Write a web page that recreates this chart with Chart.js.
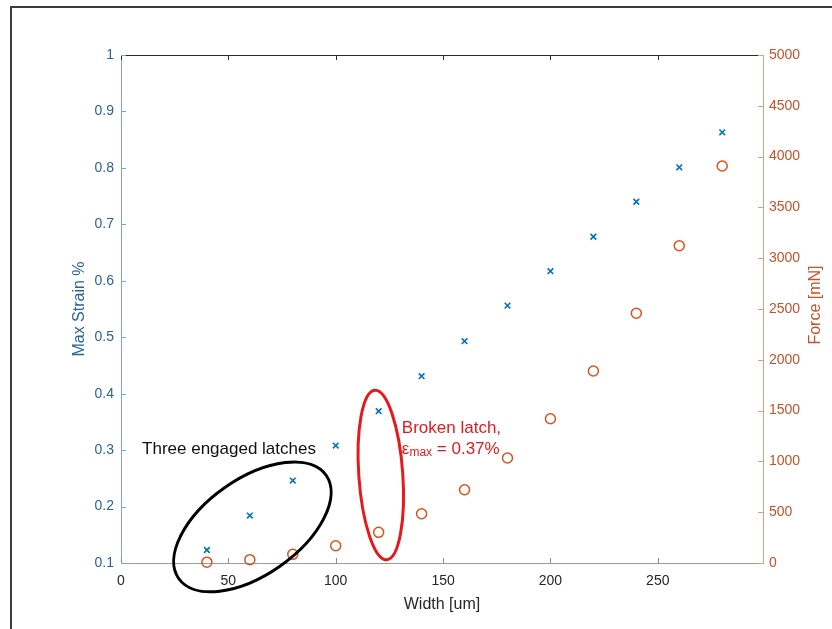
<!DOCTYPE html>
<html>
<head>
<meta charset="utf-8">
<script src="https://cdn.jsdelivr.net/npm/chart.js@4"></script>
<style>
  html, body { margin: 0; padding: 0; background: #fff; overflow: hidden; width: 832px; height: 629px; }
  #wrap { position: absolute; left: 0; top: 0; width: 832px; height: 629px; }
  #strainChart { display: block; }
</style>
</head>
<body>
<div id="wrap"><canvas id="strainChart" width="832" height="629"></canvas></div>
<script>
// latch width vs. peak strain and force
const widths = [40, 60, 80, 100, 120, 140, 160, 180, 200, 220, 240, 260, 280];
const maxStrain = [0.123, 0.184, 0.246, 0.308, 0.369, 0.431, 0.493, 0.556, 0.617, 0.678, 0.740, 0.801, 0.863];
const force = [8, 33, 85, 170, 302, 485, 721, 1033, 1420, 1890, 2458, 3123, 3908];

const widthTicks = [0, 50, 100, 150, 200, 250];
const strainTicks = [0.1, 0.2, 0.3, 0.4, 0.5, 0.6, 0.7, 0.8, 0.9, 1];
const forceTicks = [0, 500, 1000, 1500, 2000, 2500, 3000, 3500, 4000, 4500, 5000];

const BLUE = "#0072BD";
const ORANGE = "#D95319";
const BLUE_TXT = "#2a6496";
const ORANGE_TXT = "#c2532a";
const FONT = "'Liberation Sans', Arial, Helvetica, sans-serif";

Chart.defaults.font.family = FONT;

const toPoints = (ys) => widths.map((w, i) => ({ x: w, y: ys[i] }));

// white page with the figure frame (left and top edges only)
const frame = {
  id: "frame",
  beforeDraw(chart) {
    const { ctx, width, height } = chart;
    ctx.save();
    ctx.fillStyle = "#fff";
    ctx.fillRect(0, 0, width, height);
    ctx.strokeStyle = "#3c3c3c";
    ctx.lineWidth = 2;
    ctx.beginPath();
    ctx.moveTo(11, height);
    ctx.lineTo(11, 7);
    ctx.lineTo(width + 2, 7);
    ctx.stroke();
    ctx.restore();
  }
};

// matlab-style ticks pointing into the plot box, plus the top edge
const innerTicks = {
  id: "innerTicks",
  afterDraw(chart) {
    const { ctx, chartArea: a, scales } = chart;
    const len = 5;
    ctx.save();
    ctx.lineWidth = 1;
    ctx.strokeStyle = "#2b2b2b";
    ctx.beginPath();
    ctx.moveTo(a.left, a.top + 0.5);
    ctx.lineTo(a.right, a.top + 0.5);
    ctx.stroke();

    widthTicks.forEach((v) => {
      const x = Math.round(scales.x.getPixelForValue(v)) + 0.5;
      ctx.strokeStyle = "#8a8a8a";
      ctx.beginPath(); ctx.moveTo(x, a.bottom); ctx.lineTo(x, a.bottom - len); ctx.stroke();
      ctx.strokeStyle = "#2b2b2b";
      ctx.beginPath(); ctx.moveTo(x, a.top); ctx.lineTo(x, a.top + len); ctx.stroke();
    });
    ctx.strokeStyle = "#7fa6c7";
    strainTicks.forEach((v) => {
      const y = Math.round(scales.y.getPixelForValue(v)) + 0.5;
      ctx.beginPath(); ctx.moveTo(a.left, y); ctx.lineTo(a.left + len, y); ctx.stroke();
    });
    ctx.strokeStyle = "#e0a07e";
    forceTicks.forEach((v) => {
      const y = Math.round(scales.y2.getPixelForValue(v)) + 0.5;
      ctx.beginPath(); ctx.moveTo(a.right, y); ctx.lineTo(a.right - len, y); ctx.stroke();
    });

    // right axis title reads bottom-to-top like the left one
    ctx.fillStyle = ORANGE_TXT;
    ctx.font = "16px " + FONT;
    ctx.textAlign = "center";
    ctx.textBaseline = "middle";
    ctx.translate(816, (a.top + a.bottom) / 2 - 4);
    ctx.rotate(-Math.PI / 2);
    ctx.fillText("Force [mN]", 0, 0);
    ctx.restore();
  }
};

// circled groups and their notes
const notes = {
  id: "notes",
  afterDatasetsDraw(chart) {
    const { ctx, scales } = chart;
    const px = (v) => scales.x.getPixelForValue(v);
    const py = (v) => scales.y.getPixelForValue(v);
    ctx.save();
    ctx.lineWidth = 3;

    ctx.strokeStyle = "#000";
    ctx.beginPath();
    ctx.ellipse(px(61.2), py(0.164), 90, 48, -35 * Math.PI / 180, 0, Math.PI * 2);
    ctx.stroke();

    ctx.strokeStyle = "#e41a1c";
    ctx.beginPath();
    ctx.ellipse(px(121), py(0.256), 22, 85, -4 * Math.PI / 180, 0, Math.PI * 2);
    ctx.stroke();

    ctx.textBaseline = "middle";
    ctx.textAlign = "left";
    ctx.font = "17px " + FONT;
    ctx.fillStyle = "#111";
    ctx.fillText("Three engaged latches", px(9.8), py(0.302));

    ctx.fillStyle = "#e41a1c";
    const tx = px(130.8);
    ctx.fillText("Broken latch,", tx, py(0.339));
    const y2 = py(0.302);
    ctx.fillText("\u03b5", tx, y2);
    let x = tx + ctx.measureText("\u03b5").width;
    ctx.font = "12px " + FONT;
    ctx.fillText("max", x, y2 + 4);
    x += ctx.measureText("max").width;
    ctx.font = "17px " + FONT;
    ctx.fillText(" = 0.37%", x, y2);
    ctx.restore();
  }
};

new Chart(document.getElementById("strainChart"), {
  type: "scatter",
  data: {
    datasets: [
      {
        label: "Max Strain %",
        data: toPoints(maxStrain),
        yAxisID: "y",
        pointStyle: "crossRot",
        pointRadius: 4,
        pointBorderWidth: 1.6,
        borderColor: BLUE,
        backgroundColor: BLUE,
        clip: false
      },
      {
        label: "Force [mN]",
        data: toPoints(force),
        yAxisID: "y2",
        pointStyle: "circle",
        pointRadius: 5,
        pointBorderWidth: 1.5,
        borderColor: ORANGE,
        backgroundColor: "rgba(0,0,0,0)",
        clip: false
      }
    ]
  },
  options: {
    responsive: false,
    animation: false,
    layout: { padding: { top: 55, left: 0, right: 0, bottom: 0 } },
    plugins: {
      legend: { display: false },
      tooltip: { enabled: false }
    },
    scales: {
      x: {
        type: "linear",
        min: 0,
        max: 299,
        afterFit: (s) => { s.height = 66; },
        afterBuildTicks: (s) => { s.ticks = widthTicks.map((v) => ({ value: v })); },
        grid: { display: false, drawTicks: false },
        border: { display: true, color: "#9a9a9a", width: 1 },
        ticks: { color: "#262626", font: { size: 14 }, padding: 10, maxRotation: 0 },
        title: { display: true, text: "Width [um]", color: "#262626", font: { size: 16 }, padding: { top: 0, bottom: 15 } }
      },
      y: {
        type: "linear",
        position: "left",
        min: 0.1,
        max: 1,
        afterFit: (s) => { s.width = 121; },
        afterBuildTicks: (s) => { s.ticks = strainTicks.map((v) => ({ value: v })); },
        grid: { display: false, drawTicks: false },
        border: { display: true, color: "#7fa6c7", width: 1 },
        ticks: { color: BLUE_TXT, font: { size: 14 }, padding: 7, callback: (v) => String(Math.round(v * 10) / 10) },
        title: { display: true, text: "Max Strain %", color: BLUE_TXT, font: { size: 16 }, padding: { top: 70, bottom: 0 } }
      },
      y2: {
        type: "linear",
        position: "right",
        min: 0,
        max: 5000,
        afterFit: (s) => { s.width = 69; },
        afterBuildTicks: (s) => { s.ticks = forceTicks.map((v) => ({ value: v })); },
        grid: { display: false, drawTicks: false },
        border: { display: true, color: "#e0a07e", width: 1 },
        ticks: { color: ORANGE_TXT, font: { size: 14 }, padding: 6, callback: (v) => String(v) }
      }
    }
  },
  plugins: [frame, innerTicks, notes]
});
</script>
</body>
</html>
